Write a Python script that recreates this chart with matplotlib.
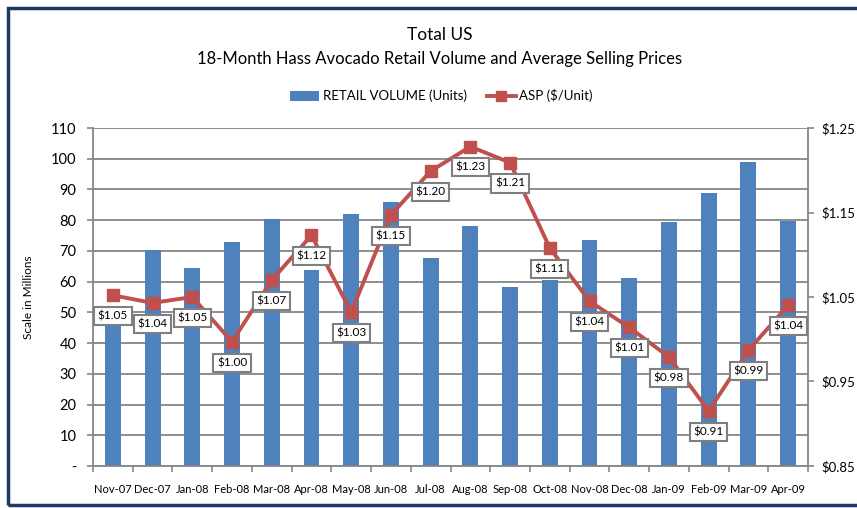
import matplotlib
matplotlib.use("Agg")
import matplotlib.pyplot as plt
from matplotlib.lines import Line2D
from matplotlib.patches import Patch, Rectangle
import numpy as np

months = ["Nov-07", "Dec-07", "Jan-08", "Feb-08", "Mar-08", "Apr-08", "May-08", "Jun-08", "Jul-08",
          "Aug-08", "Sep-08", "Oct-08", "Nov-08", "Dec-08", "Jan-09", "Feb-09", "Mar-09", "Apr-09"]
volume = [46.0, 70.3, 64.5, 72.8, 80.4, 63.7, 81.9, 85.9, 67.8,
          78.2, 58.2, 60.5, 73.5, 61.2, 79.3, 88.8, 98.9, 79.7]
asp = [1.052, 1.043, 1.050, 0.997, 1.070, 1.123, 1.032, 1.147, 1.199,
       1.228, 1.209, 1.108, 1.045, 1.014, 0.979, 0.915, 0.987, 1.040]
asp_labels = ["$1.05", "$1.04", "$1.05", "$1.00", "$1.07", "$1.12", "$1.03", "$1.15", "$1.20",
              "$1.23", "$1.21", "$1.11", "$1.04", "$1.01", "$0.98", "$0.91", "$0.99", "$1.04"]
left_ticks = [0, 10, 20, 30, 40, 50, 60, 70, 80, 90, 100, 110]
left_tick_labels = ["-", "10", "20", "30", "40", "50", "60", "70", "80", "90", "100", "110"]
right_ticks = [0.85, 0.95, 1.05, 1.15, 1.25]
right_tick_labels = ["$0.85", "$0.95", "$1.05", "$1.15", "$1.25"]

plt.rcParams['font.family'] = ['Lato', 'DejaVu Sans']

BLUE = "#4F81BD"
RED = "#C0504D"
GRID = "#868686"

fig = plt.figure(figsize=(8.57, 5.08), dpi=100)
# frame
fig.patches.append(Rectangle((8/857, 3/508), 1.0, 497/508, transform=fig.transFigure,
                             fill=False, edgecolor="#1F3864", linewidth=2.5, zorder=0))

ax = fig.add_axes([93/857, 1-466/508, 715/857, 338/508])
x = np.arange(len(months))
ax.bar(x, volume, width=0.4, color=BLUE, zorder=2)
ax.set_xlim(-0.5, len(months)-0.5)
ax.set_ylim(0, 110)
ax.set_yticks(left_ticks)
ax.set_yticklabels(left_tick_labels, fontsize=10.5)
ax.set_xticks(x)
ax.set_xticklabels(months, fontsize=8)
ax.set_xticks(np.arange(-0.5, len(months), 1), minor=True)
ax.tick_params(axis='x', which='major', length=0, pad=13)
ax.tick_params(axis='x', which='minor', length=4, color=GRID, width=1.2)
ax.tick_params(axis='y', length=4, color=GRID, width=1.2, pad=8)
ax.grid(axis='y', color=GRID, linewidth=1.3, zorder=1)
ax.set_axisbelow(True)
for s in ['top', 'right']:
    ax.spines[s].set_visible(False)
for s in ['left', 'bottom']:
    ax.spines[s].set_color(GRID)
    ax.spines[s].set_linewidth(1.3)
ax.set_ylabel("Scale in Millions", fontsize=8.5, labelpad=12)

ax2 = ax.twinx()
ax2.plot(x, asp, color=RED, linewidth=2.8, marker='s', markersize=8, zorder=3)
ax2.set_ylim(0.85, 1.25)
ax2.set_yticks(right_ticks)
ax2.set_yticklabels(right_tick_labels, fontsize=9.5)
ax2.tick_params(axis='y', length=4, color=GRID, width=1.2, pad=6)
for s in ['top', 'left', 'bottom']:
    ax2.spines[s].set_visible(False)
ax2.spines['right'].set_color(GRID)
ax2.spines['right'].set_linewidth(1.3)
for xi, yi, lab in zip(x, asp, asp_labels):
    ax2.annotate(lab, (xi, yi), xytext=(0, -15), textcoords='offset points', ha='center', va='center',
                 fontsize=8.5, zorder=5,
                 bbox=dict(boxstyle='square,pad=0.3', facecolor='white', edgecolor='#7F7F7F', linewidth=1.5))

fig.text(0.513, 1-35/508, "Total US", ha='center', va='center', fontsize=12.5)
fig.text(0.513, 1-59/508, "18-Month Hass Avocado Retail Volume and Average Selling Prices", ha='center', va='center', fontsize=12)

handles = [Patch(facecolor=BLUE), Line2D([0], [0], color=RED, linewidth=2.8, marker='s', markersize=7)]
fig.legend(handles, ["RETAIL VOLUME (Units)", "ASP ($/Unit)"], loc='center', bbox_to_anchor=(0.515, 1-96/508),
           ncol=2, frameon=False, fontsize=9.5, handlelength=2.2, columnspacing=1.5, handletextpad=0.3)

fig.savefig("out.png", dpi=100)
